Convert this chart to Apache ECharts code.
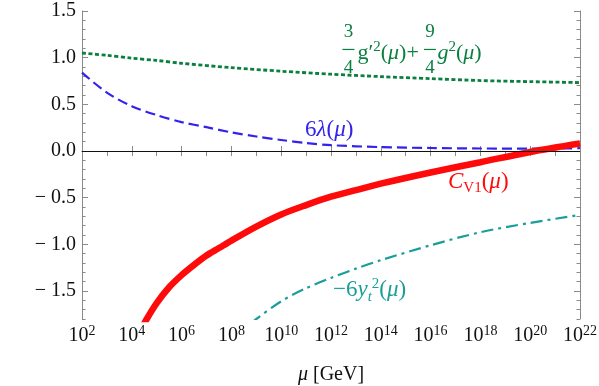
<!DOCTYPE html>
<html>
<head>
<meta charset="utf-8">
<script src="https://cdn.jsdelivr.net/npm/echarts@6/dist/echarts.min.js"></script>
<style>
  html, body { margin: 0; padding: 0; background: #fff; }
  #chart { width: 599px; height: 386px; }
</style>
</head>
<body>
<div id="chart"></div>
<script>
// x values are log10(mu / GeV)
const gaugeX = [2, 3, 4, 5, 6, 8, 10, 12, 14, 16, 18, 20, 22];
const gaugeY = [1.05, 1.025, 0.995, 0.97, 0.94, 0.893, 0.855, 0.823, 0.797, 0.775, 0.755, 0.743, 0.733];

const lambdaX = [2, 3, 4, 5, 6, 7, 8, 9, 10, 11, 12, 14, 16, 18, 20, 22];
const lambdaY = [0.84, 0.625, 0.48, 0.385, 0.31, 0.255, 0.2, 0.155, 0.118, 0.085, 0.062, 0.042, 0.032, 0.027, 0.026, 0.03];

const cv1X = [4.4, 4.6, 5, 5.5, 6, 6.5, 7, 7.5, 8, 9, 10, 11, 12, 13, 14, 16, 18, 20, 22];
const cv1Y = [-1.9, -1.8, -1.63, -1.46, -1.33, -1.22, -1.12, -1.04, -0.96, -0.81, -0.68, -0.58, -0.49, -0.42, -0.35, -0.23, -0.12, -0.01, 0.08];

const ytX = [8.8, 9, 10, 11, 12, 13, 14, 16, 18, 20, 22];
const ytY = [-1.85, -1.8, -1.61, -1.47, -1.36, -1.26, -1.17, -1.01, -0.87, -0.77, -0.685];

const yMajorTicks = [-1.5, -1.0, -0.5, 0, 0.5, 1.0, 1.5];
const yMinorTicks = [];
for (let k = -18; k <= 15; k++) {
  if (k % 5 !== 0) yMinorTicks.push(k / 10);
}

const serif = '"Liberation Serif", "DejaVu Serif", serif';
const frameColor = '#8a8a8a';
const green = '#0a8040';
const blue = '#3322ee';
const red = '#ff0a0a';
const teal = '#1a9e9a';

function pairs(xs, ys) {
  return xs.map((x, i) => [x, ys[i]]);
}

function yAxisDef(position, values, len, showLine, showLabel) {
  return {
    type: 'value', position: position, min: -1.8, max: 1.5,
    axisLine: { show: showLine, lineStyle: { color: frameColor, width: 1 } },
    axisTick: { show: true, inside: true, length: len, customValues: values, lineStyle: { color: frameColor } },
    axisLabel: {
      show: showLabel, customValues: values, margin: 6,
      fontFamily: serif, fontSize: 20, color: '#111',
      formatter: v => (v < 0 ? '\u2212 ' : '') + Math.abs(v).toFixed(1)
    },
    splitLine: { show: false }
  };
}

const option = {
  animation: false,
  backgroundColor: '#fff',
  grid: { left: 82, right: 19, top: 11, bottom: 67, outerBoundsMode: 'none' },
  xAxis: [
    {
      type: 'value', position: 'bottom', min: 2, max: 22, interval: 2,
      axisLine: { lineStyle: { color: frameColor, width: 1 } },
      axisTick: { inside: true, length: 5, lineStyle: { color: frameColor } },
      axisLabel: {
        margin: 5,
        formatter: v => '{b|10}{s|' + v + '}',
        rich: {
          b: { fontFamily: serif, fontSize: 20, color: '#111', lineHeight: 24 },
          s: { fontFamily: serif, fontSize: 14, color: '#111', lineHeight: 14, verticalAlign: 'top' }
        }
      },
      splitLine: { show: false },
      name: '{i|\u03bc} [GeV]',
      nameLocation: 'middle',
      nameGap: 46,
      nameTextStyle: {
        rich: {
          i: { fontFamily: serif, fontSize: 20, fontStyle: 'italic', color: '#111' },
        },
        fontFamily: serif, fontSize: 20, color: '#111'
      }
    },
    {
      type: 'value', position: 'top', min: 2, max: 22, interval: 1,
      axisLine: { lineStyle: { color: frameColor, width: 1 } },
      axisTick: { inside: true, length: 5, lineStyle: { color: frameColor } },
      axisLabel: { show: false },
      splitLine: { show: false }
    }
  ],
  yAxis: [
    yAxisDef('left', yMajorTicks, 6, true, true),
    yAxisDef('left', yMinorTicks, 3.5, false, false),
    yAxisDef('right', yMajorTicks, 6, true, false),
    yAxisDef('right', yMinorTicks, 3.5, false, false)
  ],
  series: [
    {
      name: 'gauge', type: 'line', data: pairs(gaugeX, gaugeY),
      showSymbol: false, smooth: 0.3, z: 2,
      lineStyle: { color: green, width: 2.8, type: [4, 2.5] },
      markLine: {
        silent: true, symbol: 'none', label: { show: false },
        lineStyle: { color: '#111', width: 1.2, type: 'solid' },
        data: [{ yAxis: 0 }]
      }
    },
    {
      name: 'lambda', type: 'line', data: pairs(lambdaX, lambdaY),
      showSymbol: false, smooth: 0.3, z: 3,
      lineStyle: { color: blue, width: 2.2, type: [10, 5] }
    },
    {
      name: 'yt', type: 'line', data: pairs(ytX, ytY),
      showSymbol: false, smooth: 0.3, z: 3,
      lineStyle: { color: teal, width: 2.2, type: [12, 5, 3, 5] }
    },
    {
      name: 'cv1', type: 'line', data: pairs(cv1X, cv1Y),
      showSymbol: false, smooth: 0.3, z: 4,
      lineStyle: { color: red, width: 6.5, cap: 'butt' }
    }
  ]
};

const chart = echarts.init(document.getElementById('chart'));
chart.setOption(option);

function px(p, v) {
  return chart.convertToPixel({ xAxisIndex: 0, yAxisIndex: 0 }, [p, v]);
}

function richFor(color, size) {
  const small = Math.round(size * 0.66);
  return {
    r: { fontFamily: serif, fontSize: size, fill: color, lineHeight: size + 5 },
    i: { fontFamily: serif, fontSize: size, fontStyle: 'italic', fill: color, lineHeight: size + 5 },
    sup: { fontFamily: serif, fontSize: small, fill: color, lineHeight: small, verticalAlign: 'top' },
    sub: { fontFamily: serif, fontSize: small, fill: color, lineHeight: small, verticalAlign: 'bottom' },
    subi: { fontFamily: serif, fontSize: small, fontStyle: 'italic', fill: color, lineHeight: small, verticalAlign: 'bottom' }
  };
}

function label(p, v, text, color) {
  const pt = px(p, v);
  return {
    type: 'text', x: pt[0], y: pt[1], silent: true, z: 10,
    style: {
      text: text, rich: richFor(color, 23), fill: color,
      fontFamily: serif, fontSize: 23,
      align: 'left', textAlign: 'left', verticalAlign: 'middle', textVerticalAlign: 'middle'
    }
  };
}

function plain(x, y, text, color, align) {
  return {
    type: 'text', x: x, y: y, silent: true,
    style: {
      text: text, fill: color, fontFamily: serif, fontSize: 19,
      align: align, textAlign: align, verticalAlign: 'middle', textVerticalAlign: 'middle'
    }
  };
}

function fraction(cx, top, bottom, color) {
  return [
    plain(cx, -17, top, color, 'center'),
    { type: 'line', silent: true, shape: { x1: cx - 6, y1: 0, x2: cx + 6, y2: 0 }, style: { stroke: color, lineWidth: 1.2 } },
    plain(cx, 19, bottom, color, 'center')
  ];
}

function gaugeLabel(p, v) {
  const pt = px(p, v);
  const rich = richFor(green, 22);
  const part = (x, text) => ({
    type: 'text', x: x, y: 4, silent: true,
    style: {
      text: text, rich: rich, fill: green, fontFamily: serif, fontSize: 22,
      align: 'left', textAlign: 'left', verticalAlign: 'middle', textVerticalAlign: 'middle'
    }
  });
  return {
    type: 'group', x: pt[0], y: pt[1], z: 10, silent: true,
    children: [].concat(
      fraction(0, '3', '4', green),
      [part(9, '{r|g\u2032}{sup|2}{r|(}{i|\u03bc}{r|)+}')],
      fraction(81.5, '9', '4', green),
      [part(89, '{i|g}{sup|2}{r|(}{i|\u03bc}{r|)}')]
    )
  };
}

chart.setOption({
  graphic: [
    gaugeLabel(12.7, 1.088),
    label(10.96, 0.225, '{r|6}{i|\u03bb}{r|(}{i|\u03bc}{r|)}', blue),
    label(16.7, -0.33, '{i|C}{sub|V1}{r|(}{i|\u03bc}{r|)}', red),
    label(12.08, -1.49, '{r|\u22126}{i|y}{subi|t}{sup|2}{r|(}{i|\u03bc}{r|)}', teal)
  ]
});
</script>
</body>
</html>
